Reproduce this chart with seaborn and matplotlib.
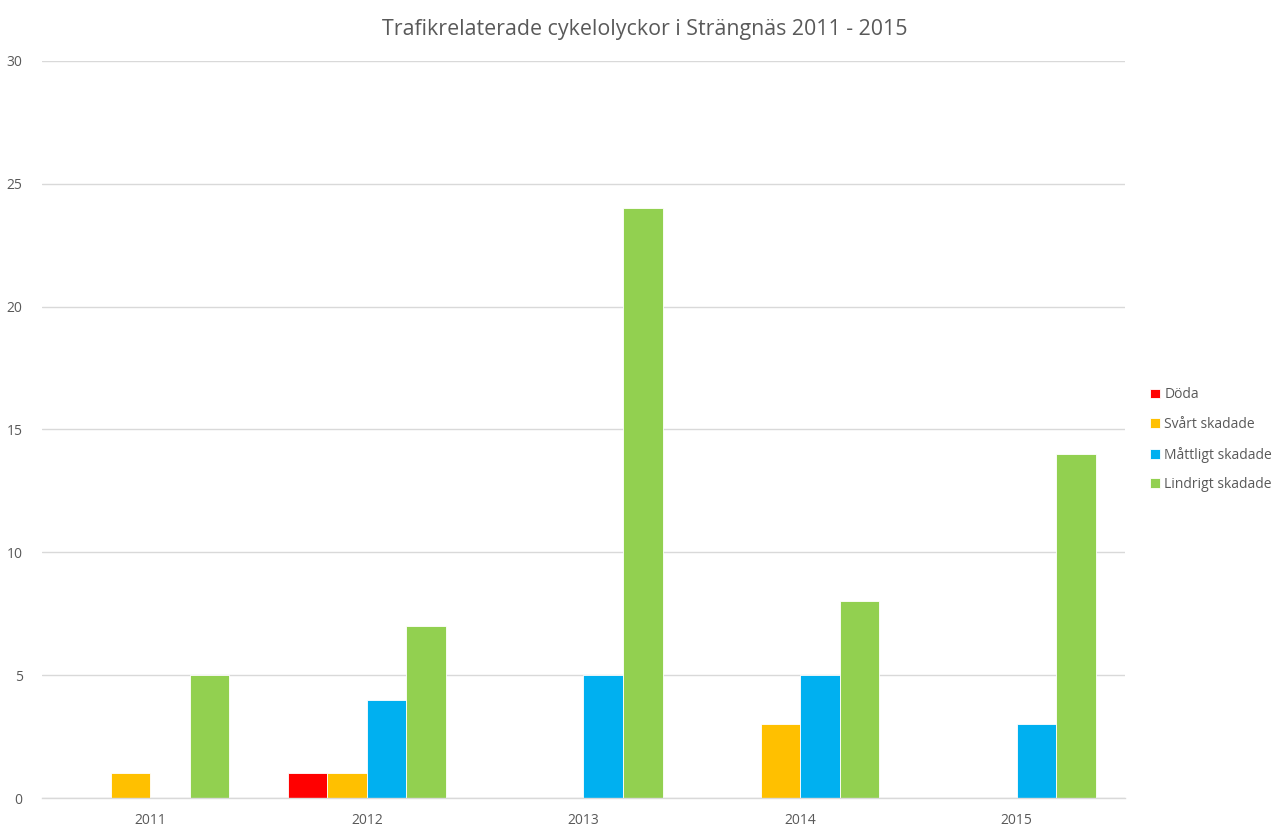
import matplotlib
matplotlib.use("Agg")
import matplotlib.pyplot as plt
import seaborn as sns
import pandas as pd

years = ["2011", "2012", "2013", "2014", "2015"]
series = ["Döda", "Svårt skadade", "Måttligt skadade", "Lindrigt skadade"]
doda = [0, 1, 0, 0, 0]
svart = [1, 1, 0, 3, 0]
mattligt = [0, 4, 5, 5, 3]
lindrigt = [5, 7, 24, 8, 14]
colors = ["#FF0000", "#FFC000", "#00B0F0", "#92D050"]

rows = []
for name, vals in zip(series, [doda, svart, mattligt, lindrigt]):
    for y, v in zip(years, vals):
        rows.append({"År": y, "Serie": name, "Antal": v})
df = pd.DataFrame(rows)

sns.set_theme(style="white")
plt.rcParams['font.family'] = ['Open Sans', 'DejaVu Sans']

fig = plt.figure(figsize=(12.74, 8.31), dpi=100)
ax = fig.add_axes([0.033, 0.0397, 0.85, 0.887])

sns.barplot(data=df, x="År", y="Antal", hue="Serie", order=years, hue_order=series,
            palette=colors, width=0.73, gap=0, edgecolor="white", linewidth=0.6,
            saturation=1, ax=ax, legend=True)

ax.set_ylim(0, 30)
ax.set_yticks([0, 5, 10, 15, 20, 25, 30])
ax.set_xlim(-0.5, 4.5)
ax.yaxis.grid(True, color="#D9D9D9", linewidth=1)
ax.set_axisbelow(True)
for s in ["top", "right", "left"]:
    ax.spines[s].set_visible(False)
ax.spines["bottom"].set_color("#D9D9D9")
ax.spines["bottom"].set_linewidth(1)
ax.tick_params(axis="both", length=0, labelsize=10, labelcolor="#595959")
ax.tick_params(axis="x", pad=11)
ax.tick_params(axis="y", pad=14)
ax.set_xlabel("")
ax.set_ylabel("")

fig.suptitle("Trafikrelaterade cykelolyckor i Strängnäs 2011 - 2015", x=0.506, y=0.977,
             fontsize=15.4, color="#595959")

leg = ax.legend(loc="center left", bbox_to_anchor=(1.012, 0.486), frameon=False,
                fontsize=10, labelcolor="#595959", handlelength=0.7, handleheight=0.7,
                handletextpad=0.3, labelspacing=1.05)

fig.savefig("out.png", dpi=100)
